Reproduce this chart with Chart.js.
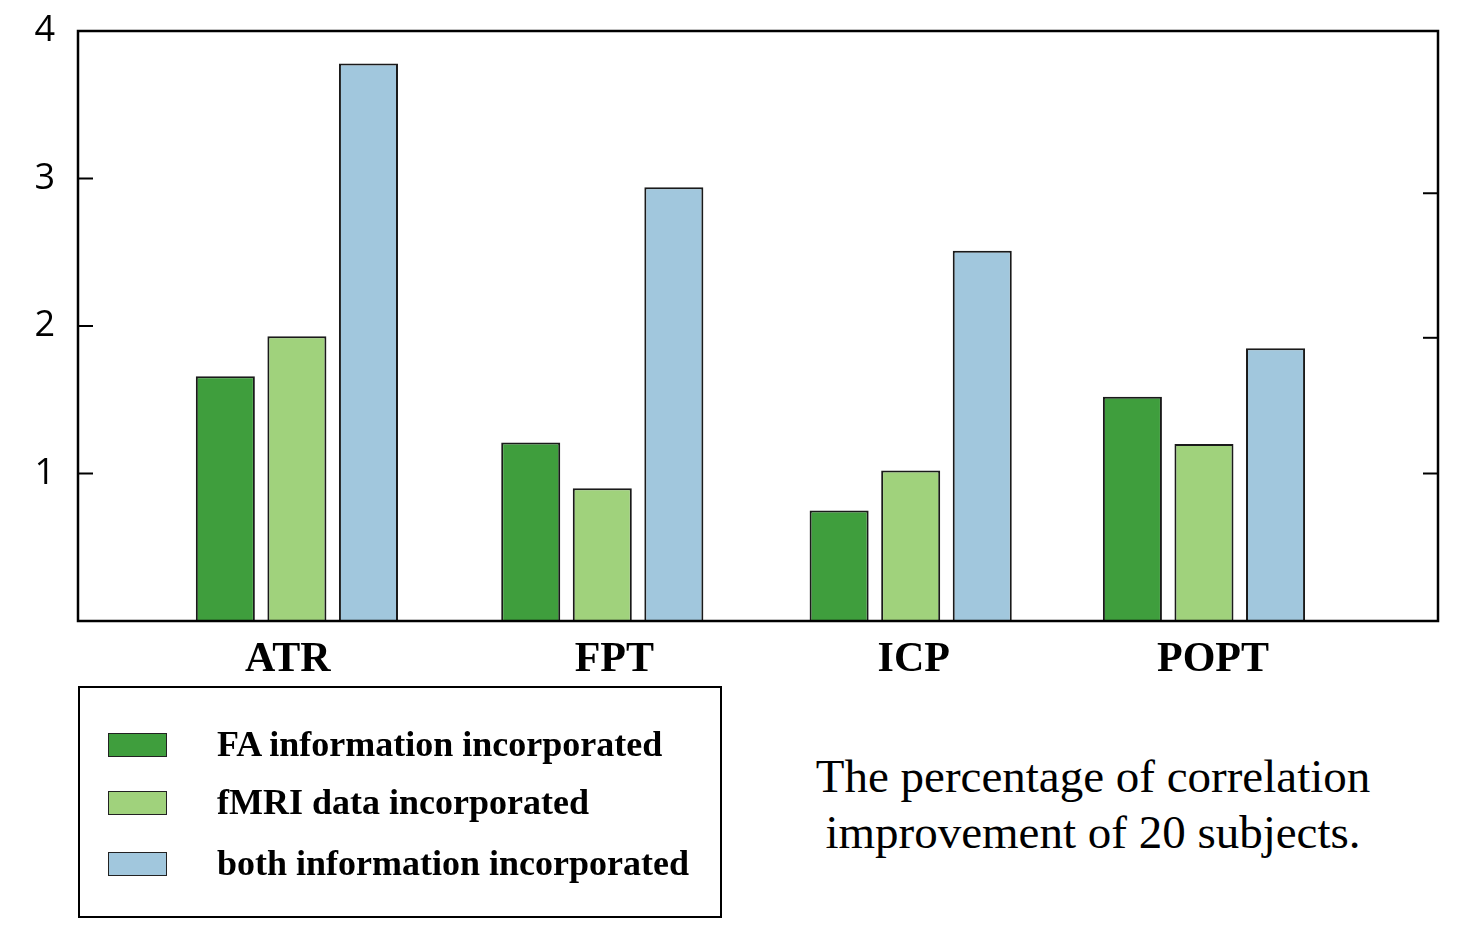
<!DOCTYPE html>
<html>
<head>
<meta charset="utf-8">
<script src="https://cdn.jsdelivr.net/npm/chart.js@4.4.1/dist/chart.umd.min.js"></script>
<style>
    body { margin: 0; background: #fff; width: 1475px; height: 935px; position: relative; overflow: hidden; }
    #chart_wrap { position: absolute; left: 0; top: 0; width: 1475px; height: 690px; }
    #legend_box {
        position: absolute; left: 78px; top: 686px; width: 640px; height: 228px;
        border: 2px solid #000; font-family: "Liberation Serif", "Times New Roman", serif;
        font-weight: bold; font-size: 36px;
    }
    .legend_row { position: absolute; left: 28px; height: 26px; }
    .legend_swatch { position: absolute; left: 0; top: 0; width: 57px; height: 22px; border: 1.5px solid #222; }
    .legend_text { position: absolute; left: 109px; top: -10px; white-space: nowrap; }
    #caption {
        position: absolute; left: 790px; top: 748px; width: 606px; text-align: center;
        font-family: "Liberation Serif", "Times New Roman", serif; font-size: 47px; line-height: 56px;
    }
</style>
</head>
<body>
<div id="chart_wrap"><canvas id="bar_chart" width="1475" height="690"></canvas></div>
<div id="legend_box"></div>
<div id="caption">The percentage of correlation<br>improvement of 20 subjects.</div>
<script>
// categories, where each group sits on the x axis, and where its label sits
const categories = ['ATR', 'FPT', 'ICP', 'POPT'];
const group_pos = [0, 1.01, 2.03, 3];
const label_pos = [-0.03, 1.05, 2.04, 3.03];

// series values
const series_names = ['FA information incorporated', 'fMRI data incorporated', 'both information incorporated'];
const fa_values = [1.66, 1.21, 0.75, 1.52];
const fmri_values = [1.93, 0.90, 1.02, 1.20];
const both_values = [3.78, 2.94, 2.51, 1.85];
const series_colors = ['#3f9e3d', '#a0d27c', '#a1c7dd'];

// y ticks
const y_tick_values = [1, 2, 3, 4];
const left_tick_marks = [1, 2, 3];
const right_tick_marks = [1.0, 1.92, 2.90];

function make_points(values) {
    return values.map((v, i) => ({x: group_pos[i], y: v}));
}

const frame_plugin = {
    id: 'frame_plugin',
    afterDraw(chart) {
        const ctx = chart.ctx;
        const area = chart.chartArea;
        const y = chart.scales.y;
        ctx.save();
        ctx.strokeStyle = '#000';
        ctx.lineWidth = 2;
        left_tick_marks.forEach(function(v) {
            const py = y.getPixelForValue(v);
            ctx.beginPath();
            ctx.moveTo(area.left, py);
            ctx.lineTo(area.left + 15, py);
            ctx.stroke();
        });
        right_tick_marks.forEach(function(v) {
            const py = y.getPixelForValue(v);
            ctx.beginPath();
            ctx.moveTo(area.right, py);
            ctx.lineTo(area.right - 15, py);
            ctx.stroke();
        });
        ctx.lineWidth = 2.5;
        ctx.strokeRect(area.left, area.top, area.right - area.left, area.bottom - area.top);
        ctx.restore();
    }
};

const datasets = [fa_values, fmri_values, both_values].map(function(vals, i) {
    return {
        label: series_names[i],
        data: make_points(vals),
        backgroundColor: series_colors[i],
        borderColor: '#1a1a1a',
        borderWidth: 2,
        categoryPercentage: 0.732,
        barPercentage: 0.825,
    };
});

new Chart(document.getElementById('bar_chart'), {
    type: 'bar',
    data: { datasets: datasets },
    options: {
        responsive: false,
        animation: false,
        devicePixelRatio: 1,
        layout: { padding: { left: 0, right: 37, top: 31, bottom: 0 } },
        plugins: {
            legend: { display: false },
            tooltip: { enabled: false },
        },
        scales: {
            x: {
                type: 'linear',
                min: -0.724,
                max: 3.774,
                offset: false,
                grid: { display: false, offset: false },
                border: { display: false },
                afterBuildTicks: function(scale) {
                    scale.ticks = label_pos.map((v) => ({value: v}));
                },
                afterFit: function(scale) {
                    scale.height = 69;
                    scale.paddingLeft = 0;
                    scale.paddingRight = 0;
                },
                ticks: {
                    autoSkip: false,
                    maxRotation: 0,
                    padding: 6,
                    color: '#000',
                    font: { family: '"Liberation Serif", "Times New Roman", serif', size: 42, weight: 'bold' },
                    callback: function(value) {
                        const idx = label_pos.indexOf(value);
                        return idx >= 0 ? categories[idx] : '';
                    }
                }
            },
            y: {
                min: 0,
                max: 4,
                grid: { display: false },
                border: { display: false },
                afterBuildTicks: function(scale) {
                    scale.ticks = y_tick_values.map((v) => ({value: v}));
                },
                afterFit: function(scale) {
                    scale.width = 78;
                    scale.paddingTop = 0;
                    scale.paddingBottom = 0;
                },
                ticks: {
                    padding: 15,
                    color: '#000',
                    font: { family: '"Open Sans", sans-serif', size: 36 },
                }
            }
        }
    },
    plugins: [frame_plugin]
});

// legend built from the same names and colours
const legend_box = document.getElementById('legend_box');
const legend_tops = [45, 103, 164];
series_names.forEach(function(name, i) {
    const row = document.createElement('div');
    row.className = 'legend_row';
    row.style.top = legend_tops[i] + 'px';
    row.innerHTML = '<div class="legend_swatch" style="background:' + series_colors[i] + '"></div>' +
        '<div class="legend_text">' + name + '</div>';
    legend_box.appendChild(row);
});
</script>
</body>
</html>
